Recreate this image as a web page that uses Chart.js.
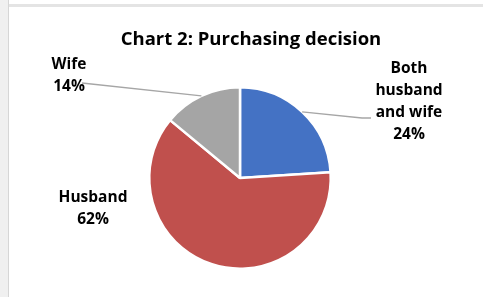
<!DOCTYPE html>
<html>
<head>
<meta charset="utf-8">
<script src="https://cdn.jsdelivr.net/npm/chart.js@4.4.0/dist/chart.umd.min.js"></script>
<style>
  html, body { margin: 0; padding: 0; background: #ffffff; }
  body { width: 483px; height: 297px; position: relative; overflow: hidden; }
  .topband { position: absolute; left: 0; top: 4px; width: 483px; height: 3px; background: #e4e4e4; }
  .leftband { position: absolute; left: 0; top: 0; width: 8px; height: 297px; background: #f0f0f0; border-right: 1px solid #d6d6d6; }
  #wrap { position: absolute; left: 9px; top: 7px; width: 474px; height: 290px; background: #fff; }
</style>
</head>
<body>
<div class="topband"></div>
<div class="leftband"></div>
<div id="wrap"><canvas id="miGrafico" width="474" height="290"></canvas></div>
<script>
// Datos del gráfico
const titulo = "Chart 2: Purchasing decision";
const categorias = ["Both husband and wife", "Husband", "Wife"];
const valores = [24, 62, 14];
const etiquetas = [["Both", "husband", "and wife", "24%"], ["Husband", "62%"], ["Wife", "14%"]];
const colores = ["#4472C4", "#C0504D", "#A5A5A5"];

// Posiciones de las etiquetas (coordenadas del canvas)
const posEtiquetas = [
  { x: 400, y: 62, linea: [[353, 111], [362, 111]] },
  { x: 84, y: 191, linea: null },
  { x: 60, y: 58, linea: [[73, 76]] }
];

const etiquetasPlugin = {
  id: "etiquetas",
  afterDraw(chart) {
    const ctx = chart.ctx;
    ctx.save();
    // título
    ctx.fillStyle = "#000";
    ctx.font = "bold 18.5px 'Open Sans'";
    ctx.textAlign = "center";
    ctx.textBaseline = "middle";
    ctx.fillText(titulo, 242, 33);

    const arcs = chart.getDatasetMeta(0).data;
    arcs.forEach((arc, i) => {
      const p = posEtiquetas[i];
      if (p.linea) {
        const mid = (arc.startAngle + arc.endAngle) / 2;
        const x0 = arc.x + Math.cos(mid) * arc.outerRadius;
        const y0 = arc.y + Math.sin(mid) * arc.outerRadius;
        ctx.strokeStyle = "#a6a6a6";
        ctx.lineWidth = 1.3;
        ctx.beginPath();
        ctx.moveTo(x0, y0);
        p.linea.forEach(pt => ctx.lineTo(pt[0], pt[1]));
        ctx.stroke();
      }
      ctx.fillStyle = "#000";
      ctx.font = "bold 15.5px 'Open Sans'";
      ctx.textAlign = "center";
      etiquetas[i].forEach((t, k) => ctx.fillText(t, p.x, p.y + k * 22));
    });
    ctx.restore();
  }
};

const datos = {
  labels: categorias,
  datasets: [{
    data: valores,
    backgroundColor: colores,
    borderColor: "#ffffff",
    borderWidth: 2.5
  }]
};

const config = {
  type: "pie",
  data: datos,
  options: {
    responsive: false,
    animation: false,
    layout: { padding: { left: 139, right: 151, top: 79, bottom: 27 } },
    plugins: {
      legend: { display: false },
      title: { display: false },
      tooltip: { enabled: false }
    }
  },
  plugins: [etiquetasPlugin]
};

const ctx = document.getElementById("miGrafico").getContext("2d");
new Chart(ctx, config);
</script>
</body>
</html>
